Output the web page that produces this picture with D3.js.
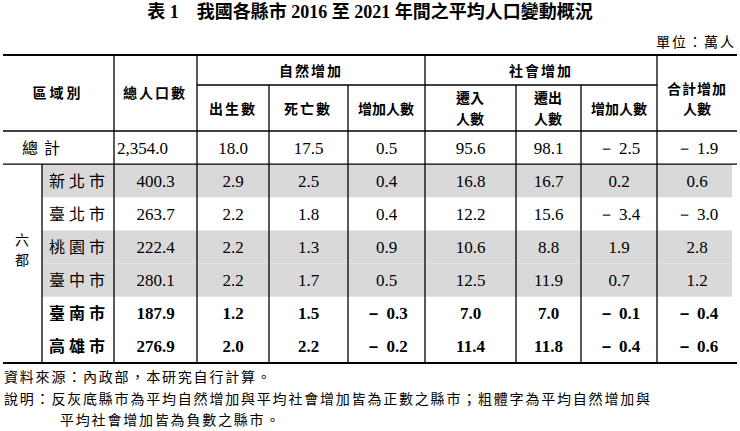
<!DOCTYPE html>
<html><head><meta charset="utf-8">
<script src="https://cdn.jsdelivr.net/npm/d3@7"></script>
<style>body{margin:0;background:#fff}</style></head>
<body><svg id="c" width="740" height="431"></svg>
<script>
const regions = ["總計","新北市","臺北市","桃園市","臺中市","臺南市","高雄市"];
const population = ["2,354.0","400.3","263.7","222.4","280.1","187.9","276.9"];
const births = ["18.0","2.9","2.2","2.2","2.2","1.2","2.0"];
const deaths = ["17.5","2.5","1.8","1.3","1.7","1.5","2.2"];
const naturalInc = ["0.5","0.4","0.4","0.9","0.5","－ 0.3","－ 0.2"];
const migIn = ["95.6","16.8","12.2","10.6","12.5","7.0","11.4"];
const migOut = ["98.1","16.7","15.6","8.8","11.9","7.0","11.8"];
const socialInc = ["－ 2.5","0.2","－ 3.4","1.9","0.7","－ 0.1","－ 0.4"];
const totalInc = ["－ 1.9","0.6","－ 3.0","2.8","1.2","－ 0.4","－ 0.6"];
const shaded = [false,true,false,true,true,false,false];
const bold = [false,false,false,false,false,true,true];

const svg = d3.select("#c");
const cjk = "'Noto Sans CJK TC','Noto Sans CJK SC',sans-serif";
const serif = "'Liberation Serif','DejaVu Serif',serif";
const edges = [3,42,114,197,269,348,425,516,581,657,737];
const y = d3.scaleBand().domain(regions).range([131,363]);
const y0 = 131, yTop = 55, yMid = 85;

regions.forEach((r,i)=>{ if(shaded[i]) svg.append("rect").attr("x",42).attr("y",y(r)).attr("width",690).attr("height",y.bandwidth()).attr("fill","#d9d9d9"); });

function line(x1,y1,x2,y2,w){svg.append("line").attr("x1",x1).attr("y1",y1).attr("x2",x2).attr("y2",y2).attr("stroke","#000").attr("stroke-width",w||1.3);}
line(3,yTop,737,yTop,1.8); line(197,yMid,657,yMid); line(3,y0,737,y0,1.5);
line(3,y(regions[1]),737,y(regions[1]),1.3); line(3,363,737,363,1.8);
[114,197,425,657].forEach(x=>line(x,yTop,x,363));
[269,348,516,581].forEach(x=>line(x,yMid,x,363));
line(42,y(regions[1]),42,363);

function txt(x,yy,s,o){o=o||{};return svg.append("text").attr("x",x).attr("y",yy).attr("text-anchor",o.a||"middle").attr("font-family",o.f||cjk).attr("font-size",o.s||14).attr("font-weight",o.w||"normal").attr("letter-spacing",o.ls||0).attr("fill","#000").text(s);}
txt(370,18,"表 1　我國各縣市 2016 至 2021 年間之平均人口變動概況",{f:serif+","+cjk,s:18,w:"bold"});
txt(736,47,"單位：萬人",{a:"end",s:14,ls:2});
txt(58,98,"區域別",{ls:3,w:"bold"}); txt(155,98,"總人口數",{ls:2,w:"bold"});
txt(311,76,"自然增加",{ls:2,w:"bold"}); txt(541,76,"社會增加",{ls:2,w:"bold"});
txt(233,114,"出生數",{ls:2,w:"bold"}); txt(308,114,"死亡數",{ls:2,w:"bold"}); txt(386,114,"增加人數",{w:"bold"});
txt(470,103,"遷入",{w:"bold"}); txt(470,124,"人數",{w:"bold"});
txt(548,103,"遷出",{w:"bold"}); txt(548,124,"人數",{w:"bold"});
txt(619,114,"增加人數",{w:"bold"});
txt(697,94,"合計增加",{ls:1,w:"bold"}); txt(697,114,"人數",{w:"bold"});
txt(22,245,"六",{s:14}); txt(22,265,"都",{s:14});

const cols=[population,births,deaths,naturalInc,migIn,migOut,socialInc,totalInc];
regions.forEach((r,i)=>{
  const cy=y(r)+y.bandwidth()/2+6;
  if(i===0) txt(44,cy,r,{s:16,ls:6});
  else txt(79,cy,r,{s:16,ls:4,w:bold[i]?"bold":"normal"});
  cols.forEach((c,j)=>{
    const cx=(edges[j+2]+edges[j+3])/2;
    txt(j===0&&i===0?117:cx,cy,c[i],{f:serif,s:17,a:j===0&&i===0?"start":"middle",w:bold[i]?"bold":"normal"});
  });
});
txt(4,382,"資料來源：內政部，本研究自行計算。",{a:"start",s:14,ls:1.8});
txt(4,404,"說明：反灰底縣市為平均自然增加與平均社會增加皆為正數之縣市；粗體字為平均自然增加與",{a:"start",s:14,ls:1.8});
txt(60,425,"平均社會增加皆為負數之縣市。",{a:"start",s:14,ls:1.8});
</script></body></html>
